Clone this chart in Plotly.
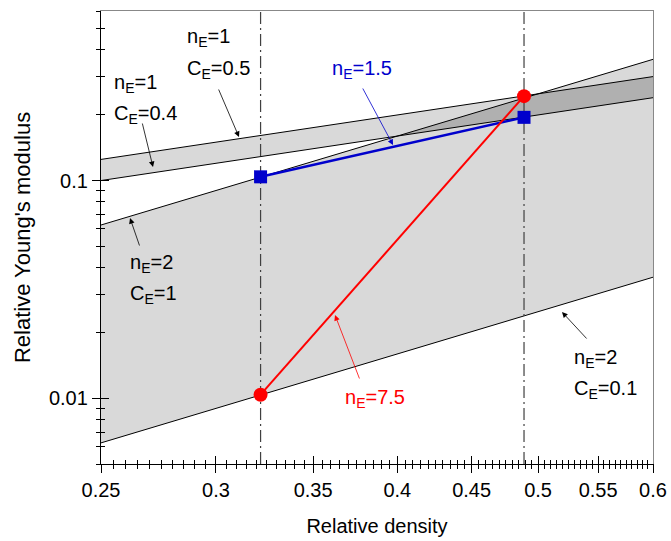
import numpy as np
import plotly.graph_objects as go

# ---------------- data ----------------
x_range = [0.25, 0.6]
y_range = [0.005, 0.6]

# power-law bounds E = C * rho^n
n_low, C_low = 2, 0.1      # n_E=2, C_E=0.1
n_up, C_up = 2, 1.0        # n_E=2, C_E=1
n_b1, C_b1 = 1, 0.4        # n_E=1, C_E=0.4
n_b2, C_b2 = 1, 0.5        # n_E=1, C_E=0.5

# measured points
blue_x = [0.322, 0.489]
blue_y = [0.104, 0.195]
red_x = [0.322, 0.489]
red_y = [0.0104, 0.244]

x_major = [0.25, 0.3, 0.35, 0.4, 0.45, 0.5, 0.55, 0.6]
x_major_text = ["0.25", "0.3", "0.35", "0.4", "0.45", "0.5", "0.55", "0.6"]
x_minor = [round(0.25 + 0.005 * i, 3) for i in range(1, 70)]
y_major = [0.01, 0.1]
y_major_text = ["0.01", "0.1"]
y_minor = [0.005, 0.006, 0.007, 0.008, 0.009,
           0.02, 0.03, 0.04, 0.05, 0.06, 0.07, 0.08, 0.09,
           0.2, 0.3, 0.4, 0.5, 0.6]

def law(C, n, x):
    return [C * xi ** n for xi in x]

xe = x_range
FONT = "Liberation Sans"
LIGHT = "#d9d9d9"
DARK = "#b0b0b0"

fig = go.Figure()

# band n=2 (C 0.1 .. 1)
bx = [xe[0], xe[1], xe[1], xe[0], xe[0]]
by = law(C_up, n_up, xe) + law(C_low, n_low, [xe[1], xe[0]]) + [C_up * xe[0] ** n_up]
fig.add_trace(go.Scatter(x=bx, y=by, fill="toself", fillcolor=LIGHT, mode="none",
                         hoverinfo="skip", showlegend=False))
# band n=1 (C 0.4 .. 0.5)
by2 = law(C_b2, n_b2, xe) + law(C_b1, n_b1, [xe[1], xe[0]]) + [C_b2 * xe[0]]
fig.add_trace(go.Scatter(x=bx, y=by2, fill="toself", fillcolor=LIGHT, mode="none",
                         hoverinfo="skip", showlegend=False))
# overlap region (dark)
x_a = C_b1 / C_up          # intersection of C_up*rho^2 with C_b1*rho
x_b = C_b2 / C_up          # intersection of C_up*rho^2 with C_b2*rho
ox = [x_a, x_b, xe[1], xe[1], x_a]
oy = [C_b1 * x_a, C_up * x_b ** 2, C_b2 * xe[1], C_b1 * xe[1], C_b1 * x_a]
fig.add_trace(go.Scatter(x=ox, y=oy, fill="toself", fillcolor=DARK, mode="none",
                         hoverinfo="skip", showlegend=False))

# boundary lines
for C, n in [(C_low, n_low), (C_up, n_up), (C_b1, n_b1), (C_b2, n_b2)]:
    fig.add_trace(go.Scatter(x=xe, y=law(C, n, xe), mode="lines",
                             line=dict(color="black", width=1),
                             hoverinfo="skip", showlegend=False))

# vertical dash-dot lines
for xv in blue_x:
    fig.add_trace(go.Scatter(x=[xv, xv], y=y_range, mode="lines",
                             line=dict(color="#404040", width=1.2, dash="12px,4px,2px,4px"),
                             hoverinfo="skip", showlegend=False))

# data lines
fig.add_trace(go.Scatter(x=blue_x, y=blue_y, mode="lines+markers",
                         line=dict(color="#0000cc", width=2.5),
                         marker=dict(symbol="square", size=13, color="#0000cc"),
                         showlegend=False))
fig.add_trace(go.Scatter(x=red_x, y=red_y, mode="lines+markers",
                         line=dict(color="#ff0000", width=2),
                         marker=dict(symbol="circle", size=14, color="#ff0000"),
                         showlegend=False))

# dummy traces for overlay axes
fig.add_trace(go.Scatter(x=[None], y=[None], xaxis="x2", yaxis="y2", showlegend=False, hoverinfo="skip"))
fig.add_trace(go.Scatter(x=[None], y=[None], xaxis="x3", yaxis="y3", showlegend=False, hoverinfo="skip"))

lx = [np.log10(v) for v in x_range]
ly = [np.log10(v) for v in y_range]

axis_common = dict(type="log", showgrid=False, zeroline=False, automargin=False)

fig.update_layout(
    width=671, height=541,
    margin=dict(l=101, r=18, t=11, b=77),
    plot_bgcolor="white", paper_bgcolor="white",
    font=dict(family=FONT, size=20, color="black"),
    xaxis=dict(**axis_common, range=lx, tickmode="array", tickvals=x_major, ticktext=x_major_text,
               ticks="outside", ticklen=8, tickwidth=1, tickcolor="black",
               showline=True, linecolor="black", linewidth=1.3,
               minor=dict(tickmode="array", tickvals=x_minor, ticks="outside", ticklen=4,
                          tickwidth=1, tickcolor="black"),
               title=dict(text="Relative density", standoff=18, font=dict(size=20)),
               tickfont=dict(size=20)),
    yaxis=dict(**axis_common, range=ly, tickmode="array", tickvals=y_major, ticktext=y_major_text,
               ticks="outside", ticklen=8, tickwidth=1, tickcolor="black",
               showline=True, linecolor="black", linewidth=1.3,
               minor=dict(tickmode="array", tickvals=y_minor, ticks="outside", ticklen=4,
                          tickwidth=1, tickcolor="black"),
               title=dict(text="Relative Young's modulus", standoff=12, font=dict(size=22)),
               tickfont=dict(size=20)),
    xaxis2=dict(**axis_common, range=lx, overlaying="x", side="top", anchor="y",
                showline=True, linecolor="#888888", linewidth=1, ticks="", showticklabels=False),
    yaxis2=dict(**axis_common, range=ly, overlaying="y", side="right", anchor="x",
                showline=True, linecolor="#888888", linewidth=1, ticks="", showticklabels=False),
    xaxis3=dict(**axis_common, range=lx, overlaying="x", side="bottom", anchor="y",
                showline=False, tickmode="array", tickvals=x_major, ticks="inside", ticklen=8,
                tickwidth=1, tickcolor="black", showticklabels=False,
                minor=dict(tickmode="array", tickvals=x_minor, ticks="inside", ticklen=4,
                           tickwidth=1, tickcolor="black")),
    yaxis3=dict(**axis_common, range=ly, overlaying="y", side="left", anchor="x",
                showline=False, tickmode="array", tickvals=y_major, ticks="inside", ticklen=8,
                tickwidth=1, tickcolor="black", showticklabels=False,
                minor=dict(tickmode="array", tickvals=y_minor, ticks="inside", ticklen=4,
                           tickwidth=1, tickcolor="black")),
)

# ---- annotations (pixel positions converted to paper coords) ----
PX0, PX1, PY0, PY1 = 101, 653, 11, 464
def px(x):
    return (x - PX0) / (PX1 - PX0)
def py(y):
    return (PY1 - y) / (PY1 - PY0)

texts = [
    ("n<sub>E</sub>=1", 112, 83, "black"),
    ("C<sub>E</sub>=0.4", 112, 114, "black"),
    ("n<sub>E</sub>=1", 185, 38, "black"),
    ("C<sub>E</sub>=0.5", 185, 69, "black"),
    ("n<sub>E</sub>=1.5", 330, 69, "#0000cc"),
    ("n<sub>E</sub>=2", 128, 263, "black"),
    ("C<sub>E</sub>=1", 128, 294, "black"),
    ("n<sub>E</sub>=7.5", 343, 398, "#ff0000"),
    ("n<sub>E</sub>=2", 572, 358, "black"),
    ("C<sub>E</sub>=0.1", 572, 389, "black"),
]
for t, x, y, c in texts:
    fig.add_annotation(text=t, x=px(x), y=py(y), xref="paper", yref="paper",
                       xanchor="left", yanchor="middle", showarrow=False,
                       font=dict(size=20, color=c, family=FONT))

arrows = [
    (142, 122, 153, 167, "black"),
    (218, 88, 239, 137, "black"),
    (362, 87, 393, 145, "#0000cc"),
    (140, 247, 130, 218, "black"),
    (360, 380, 335, 315, "#ff0000"),
    (588, 340, 562, 312, "black"),
]
for x0, y0, x1, y1, c in arrows:
    fig.add_annotation(text="", x=px(x1), y=py(y1), xref="paper", yref="paper",
                       ax=x0 - x1, ay=y0 - y1, axref="pixel", ayref="pixel",
                       showarrow=True, arrowhead=2, arrowsize=1.4, arrowwidth=0.8,
                       arrowcolor=c)

fig.write_html("out.html")
